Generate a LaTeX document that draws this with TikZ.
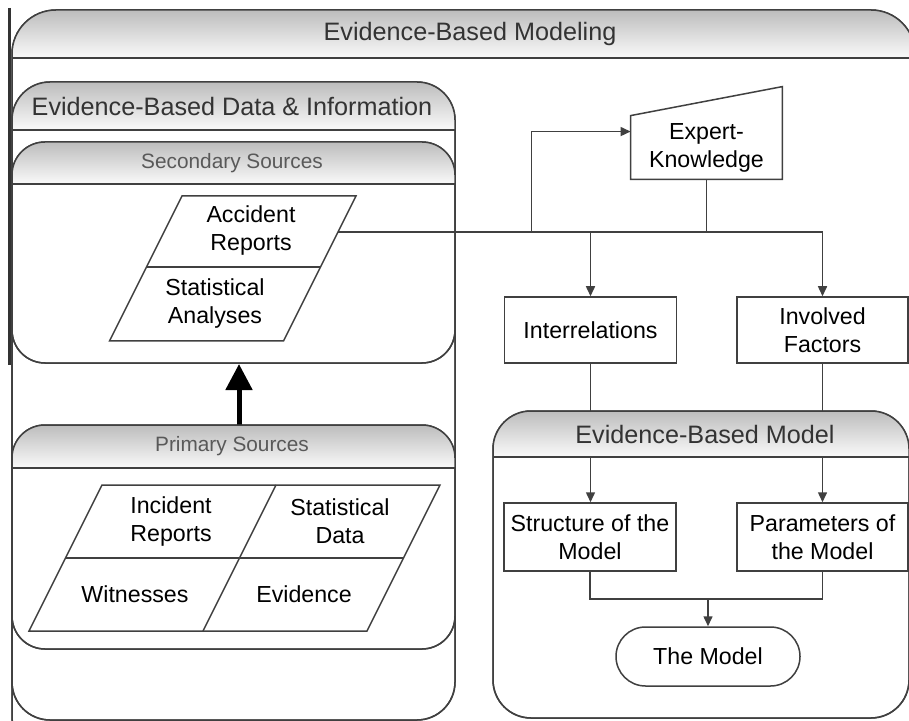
\documentclass[tikz,border=0pt]{standalone}
\usepackage{fontspec}
\setmainfont{Liberation Sans}
\usetikzlibrary{arrows.meta,calc}

\newcommand{\testo}{\fontsize{11.6}{14}\selectfont}
\newcommand{\titolo}{\fontsize{12.6}{15}\selectfont}
\newcommand{\sottotitolo}{\fontsize{10.4}{12}\selectfont}

\tikzset{
  linea/.style={draw=black!75, line width=0.75pt},
  freccia/.style={linea, -{Triangle[width=4.5pt,length=5pt]}},
  contenitore/.style={linea, fill=white, inner sep=0pt, outer sep=0pt},
  intestazione/.style={top color=black!26, bottom color=black!2},
  box/.style={linea, fill=white, align=center, font=\testo, inner sep=2pt,
    minimum width=86pt, minimum height=33pt},
  testo/.style={align=center, font=\testo},
  titolo/.style={font=\titolo, text=black!80},
  sottotitolo/.style={font=\sottotitolo, text=black!65}
}

\begin{document}
\begin{tikzpicture}[x=0.5pt, y=-0.5pt]
    \useasboundingbox (0,0) rectangle (909,721);
    \clip (0,0) rectangle (909,721);

    % Contenitori
    \node[contenitore, rounded corners=22pt, minimum width=451.5pt, minimum height=375pt] (modeling) at (463.5,385) {};
    \node[contenitore, rounded corners=19pt, minimum width=221.5pt, minimum height=319pt] (dati) at (233.5,401) {};
    \node[contenitore, rounded corners=16.5pt, minimum width=221.5pt, minimum height=110.5pt] (secondarie) at (233.5,252.5) {};
    \node[contenitore, rounded corners=16.5pt, minimum width=221.5pt, minimum height=112pt] (primarie) at (233.5,537) {};
    \node[contenitore, rounded corners=19pt, minimum width=208pt, minimum height=153.5pt] (modello) at (701,564.5) {};
    \draw[line width=1.1pt, black!80] (9.5,8) -- (9.5,365);

    % Fonti secondarie
    \draw[linea] (182,196) -- (356,196) -- (283.5,341) -- (109.5,341) -- cycle;
    \draw[linea] (146.5,267) -- (320.5,267);
    \node[testo] (accrep) at (251,231) {Accident\\Reports};
    \node[testo] (statan) at (215,304) {Statistical\\Analyses};

    % Fonti primarie
    \draw[linea] (102,485) -- (440,485) -- (367,631) -- (29,631) -- cycle;
    \draw[linea] (65.5,558) -- (403.5,558);
    \draw[linea] (276,485) -- (203,631);
    \node[testo] (increp) at (171,521) {Incident\\Reports};
    \node[testo] (statdat) at (340,521) {Statistical\\Data};
    \node[testo] (witn) at (135,594) {Witnesses};
    \node[testo] (evid) at (304,594) {Evidence};

    % Freccia spessa
    \draw[black, line width=2.5pt, -{Triangle[width=13pt,length=13pt]}]
        ([xshift=2.75pt]primarie.north) -- ([xshift=2.75pt,yshift=-0.5pt]secondarie.south);

    % Conoscenza esperta
    \node[testo, minimum width=75.5pt, minimum height=31.5pt, inner sep=0pt] (expert) at (706.5,147.5) {Expert-\\Knowledge};
    \draw[linea] (expert.south west) -- (expert.north west) -- ([yshift=14.5pt]expert.north east) -- (expert.south east) -- cycle;

    % Riquadri
    \node[box] (interrel) at (590.5,330) {Interrelations};
    \node[box, minimum width=85.5pt] (invfac) at (822.5,330) {Involved\\Factors};
    \node[box, minimum height=34pt] (struttura) at (590,537) {Structure of the\\Model};
    \node[box, minimum width=85.5pt, minimum height=34pt] (parametri) at (822.5,537) {Parameters of\\the Model};
    \node[box, rounded corners=14.75pt, minimum width=92pt, minimum height=29.5pt] (themodel) at (708,656.5) {The Model};

    % Collegamenti
    \coordinate (accrep-e) at (338,232);
    \coordinate (nodo-ar) at (531.5,232);
    \coordinate (nodo-ek) at (706.5,232);
    \coordinate (nodo-m) at (708,599);
    \draw[linea] (accrep-e) -- (nodo-ek);
    \draw[freccia] (nodo-ar) |- ($(expert.north west)!0.25!(expert.south west)$);
    \draw[linea] (expert.south) -- (nodo-ek);
    \draw[freccia] (nodo-ek) -| (interrel.north);
    \draw[freccia] (nodo-ek) -| (invfac.north);
    \draw[freccia] (interrel.south) -- (interrel.south |- struttura.north);
    \draw[freccia] (invfac.south) -- (parametri.north);
    \draw[linea] (struttura.south) |- (nodo-m) -| (parametri.south);
    \draw[freccia] (nodo-m) -- (themodel.north);

    % Intestazioni sfumate (sopra i collegamenti)
    \foreach \c/\h/\r in {modeling/24pt/22pt, dati/24pt/19pt, secondarie/21pt/16.5pt,
                          primarie/21.5pt/16.5pt, modello/23pt/19pt} {
      \begin{scope}
        \clip[rounded corners=\r] (\c.north west) rectangle (\c.south east);
        \shade[intestazione] (\c.north west) rectangle ([yshift=-\h]\c.north east);
      \end{scope}
      \draw[linea, rounded corners=\r] (\c.north west) rectangle (\c.south east);
      \draw[linea] ([yshift=-\h]\c.north west) -- ([yshift=-\h]\c.north east);
    }

    % Titoli
    \node[titolo] (t-modeling) at (470,34) {Evidence-Based Modeling};
    \node[titolo] (t-dati) at (232,106) {Evidence-Based Data \& Information};
    \node[sottotitolo] (t-secondarie) at (232,163) {Secondary Sources};
    \node[sottotitolo] (t-primarie) at (232,446) {Primary Sources};
    \node[titolo] (t-modello) at (705,434) {Evidence-Based Model};
\end{tikzpicture}
\end{document}
